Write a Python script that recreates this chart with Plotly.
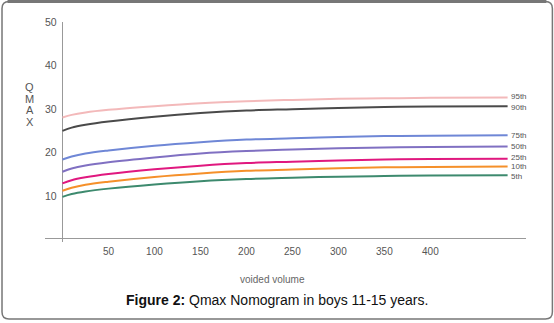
import plotly.graph_objects as go

# ---- data ----
voided_volume = [0, 10, 25, 50, 100, 150, 200, 250, 300, 350, 400, 484]
p95 = [28.0, 28.6, 29.15, 29.75, 30.6, 31.3, 31.75, 32.05, 32.3, 32.4, 32.53, 32.6]
p90 = [24.9, 25.65, 26.3, 27.05, 28.15, 29.0, 29.6, 29.9, 30.2, 30.4, 30.5, 30.6]
p75 = [18.3, 19.0, 19.7, 20.4, 21.5, 22.3, 22.9, 23.2, 23.5, 23.7, 23.8, 23.9]
p50 = [15.5, 16.25, 16.95, 17.7, 18.8, 19.7, 20.25, 20.6, 20.9, 21.1, 21.2, 21.3]
p25 = [12.8, 13.55, 14.2, 14.95, 16.05, 16.9, 17.5, 17.8, 18.1, 18.3, 18.4, 18.5]
p10 = [11.1, 11.8, 12.5, 13.2, 14.3, 15.1, 15.7, 16.0, 16.3, 16.5, 16.6, 16.7]
p5 = [9.7, 10.35, 10.95, 11.6, 12.55, 13.3, 13.8, 14.1, 14.35, 14.5, 14.63, 14.7]

series_names = ["95th", "90th", "75th", "50th", "25th", "10th", "5th"]
series_values = [p95, p90, p75, p50, p25, p10, p5]
series_colors = ["#f3b9ba", "#4a4a4a", "#6f87d6", "#8070c2", "#e0187f", "#f5902a", "#3d8a6e"]
label_nudge = [1.5, -1.5, 0, 0, 1.5, 0, -1.5]

x_ticks = [50, 100, 150, 200, 250, 300, 350, 400]
y_ticks = [10, 20, 30, 40, 50]

W, H = 554, 323
L, R, T, B = 44.5, 28.4, 22, 81
pw, ph = W - L - R, H - T - B

def px2paper(px, py):
    return (px - L) / pw, 1 - (py - T) / ph

FONT = "Liberation Sans, Arial"

fig = go.Figure()
for name, vals, col, nud in zip(series_names, series_values, series_colors, label_nudge):
    fig.add_trace(go.Scatter(x=voided_volume, y=vals, mode="lines", name=name,
                             line=dict(color=col, width=2, shape="spline", smoothing=1.0),
                             showlegend=False, hoverinfo="skip"))
    fig.add_annotation(x=voided_volume[-1], y=vals[-1], text=name, showarrow=False,
                       xanchor="left", yanchor="middle", xshift=1, yshift=nud,
                       font=dict(family=FONT, size=8, color="#555"))

for t in y_ticks:
    fig.add_annotation(x=0, y=t, text=str(t), showarrow=False, xanchor="right",
                       yanchor="middle", xshift=-3,
                       font=dict(family=FONT, size=10.5, color="#555"))

# y-axis title letters
for i, ch in enumerate("QMAX"):
    xp, yp = px2paper(29, 87 + 11.7 * i)
    fig.add_annotation(xref="paper", yref="paper", x=xp, y=yp, text=ch, showarrow=False,
                       xanchor="center", yanchor="middle",
                       font=dict(family=FONT, size=11, color="#555"))

# x-axis title
xp, yp = px2paper(272, 279)
fig.add_annotation(xref="paper", yref="paper", x=xp, y=yp, text="voided volume", showarrow=False,
                   xanchor="center", yanchor="middle",
                   font=dict(family=FONT, size=10, color="#666"))

# caption
xp, yp = px2paper(277, 300)
fig.add_annotation(xref="paper", yref="paper", x=xp, y=yp,
                   text="<b>Figure 2:</b> Qmax Nomogram in boys 11-15 years.", showarrow=False,
                   xanchor="center", yanchor="middle",
                   font=dict(family=FONT, size=14, color="#111"))

# rounded border frame
def frame_path(x0, y0, x1, y1, r):
    def P(a, b):
        u, v = px2paper(a, b)
        return f"{u:.5f},{v:.5f}"
    return (f"M {P(x0+r, y0)} L {P(x1-r, y0)} Q {P(x1, y0)} {P(x1, y0+r)} "
            f"L {P(x1, y1-r)} Q {P(x1, y1)} {P(x1-r, y1)} L {P(x0+r, y1)} "
            f"Q {P(x0, y1)} {P(x0, y1-r)} L {P(x0, y0+r)} Q {P(x0, y0)} {P(x0+r, y0)} Z")

fig.add_shape(type="path", xref="paper", yref="paper", path=frame_path(1.5, 1.5, 552, 319, 7),
              line=dict(color="#777", width=1.5), layer="above")
x0p, y0p = px2paper(7, 1.5)
x1p, _ = px2paper(546, 1.5)
fig.add_shape(type="line", xref="paper", yref="paper", x0=x0p, x1=x1p, y0=y0p, y1=y0p,
              line=dict(color="#777", width=3))

fig.update_layout(
    width=W, height=H, margin=dict(l=L, r=R, t=T, b=B),
    paper_bgcolor="white", plot_bgcolor="white",
    xaxis=dict(range=[-19, 504], tickvals=x_ticks, ticktext=[str(v) for v in x_ticks],
               showgrid=False, zeroline=True, zerolinecolor="#999", zerolinewidth=1,
               showline=False, ticks="", ticklabelstandoff=2,
               tickfont=dict(family=FONT, size=10, color="#555")),
    yaxis=dict(range=[-0.7, 50], showticklabels=False, showgrid=False, zeroline=True,
               zerolinecolor="#999", zerolinewidth=1, showline=False, ticks=""),
)

fig.write_html("out.html", config={"displayModeBar": False},
               post_script="document.body.style.margin='0';")
